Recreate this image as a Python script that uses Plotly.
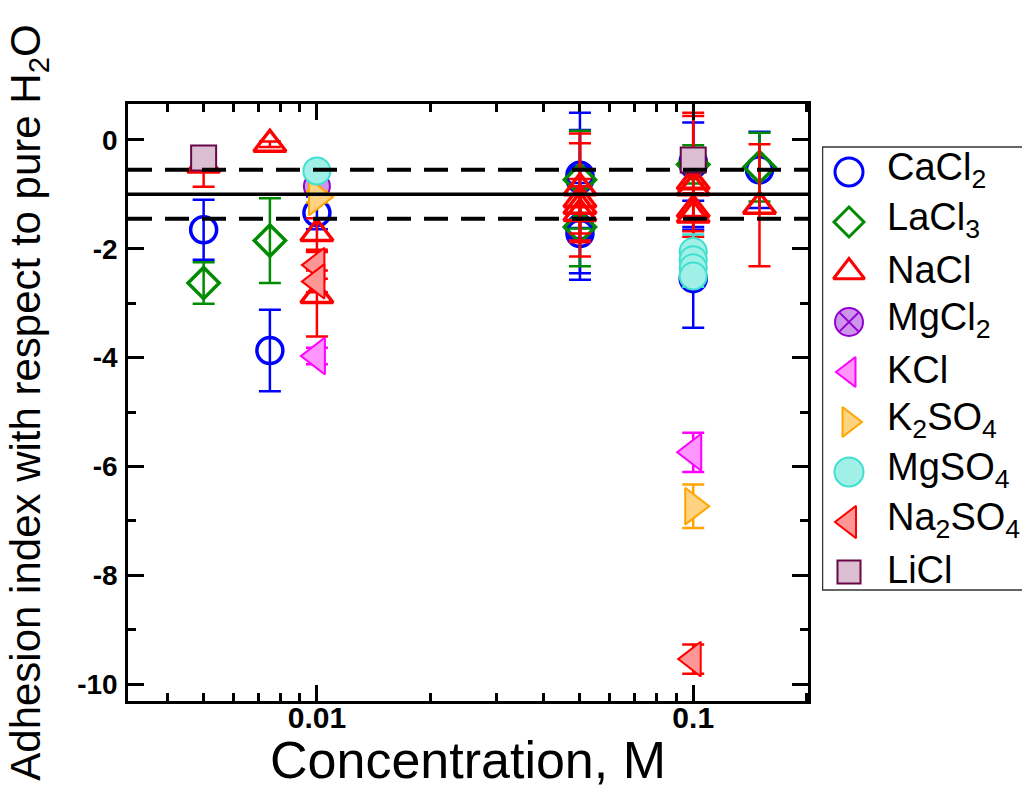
import plotly.graph_objects as go

# ---------------- data ----------------
cacl2_x = [0.005, 0.0075, 0.01, 0.05, 0.05, 0.05, 0.05, 0.1, 0.1, 0.1, 0.15]
cacl2_y = [-1.65, -3.87, -1.34, -0.65, -0.72, -1.62, -1.72, -0.40, -0.45, -2.55, -0.55]
cacl2_e = [0.55, 0.75, 0.30, 1.15, 0.90, 0.83, 0.85, 0.72, 1.15, 0.90, 0.70]

lacl3_x = [0.005, 0.0075, 0.05, 0.05, 0.1, 0.15]
lacl3_y = [-2.63, -1.85, -0.73, -1.60, -0.45, -0.50]
lacl3_e = [0.38, 0.78, 0.90, 0.72, 0.35, 0.63]

nacl_x = [0.005, 0.0075, 0.01, 0.01, 0.05, 0.05, 0.05, 0.05, 0.1, 0.1, 0.1, 0.1, 0.15]
nacl_y = [-0.46, -0.08, -1.72, -2.86, -0.88, -1.10, -1.22, -1.35, -0.77, -0.88, -1.28, -1.38, -1.22]
nacl_ep = [0.20, 0.05, 0.28, 0.80, 1.00, 1.04, 0.50, 0.50, 1.27, 1.32, 0.40, 0.40, 1.14]
nacl_em = [0.40, 0.05, 0.30, 0.75, 1.00, 1.04, 0.50, 0.50, 1.27, 1.32, 0.40, 0.40, 1.10]

mgcl2_x = [0.01]
mgcl2_y = [-0.85]
mgcl2_e = [0.10]

kcl_x = [0.01, 0.1]
kcl_y = [-3.97, -5.74]
kcl_e = [0.15, 0.36]

k2so4_x = [0.01, 0.1]
k2so4_y = [-1.05, -6.73]
k2so4_e = [0.10, 0.40]

mgso4_x = [0.01, 0.1, 0.1, 0.1, 0.1]
mgso4_y = [-0.57, -2.05, -2.20, -2.35, -2.50]
mgso4_e = [0.10, 0.31, 0.20, 0.20, 0.20]

na2so4_x = [0.01, 0.01, 0.1]
na2so4_y = [-2.30, -2.60, -9.54]
na2so4_e = [0.25, 0.20, 0.27]

licl_x = [0.005, 0.1]
licl_y = [-0.33, -0.37]
licl_e = [0.10, 0.10]

ref_lines = [-0.55, -1.0, -1.45]
ref_dash = ["24px,13px", "solid", "24px,13px"]

x_tickvals = [0.01, 0.1]
x_ticktext = ["0.01", "0.1"]
y_tickvals = [0, -2, -4, -6, -8, -10]
y_ticktext = ["0", "-2", "-4", "-6", "-8", "-10"]

# ---------------- style ----------------
FONT = "Liberation Sans, Arial, Helvetica, sans-serif"

series = [
    ("CaCl<sub>2</sub>", cacl2_x, cacl2_y, cacl2_e, cacl2_e, "circle-open", "rgb(0,0,255)", None, 26, 28),
    ("LaCl<sub>3</sub>", lacl3_x, lacl3_y, lacl3_e, lacl3_e, "diamond-open", "rgb(0,139,0)", None, 24, 23),
    ("NaCl", nacl_x, nacl_y, nacl_ep, nacl_em, "triangle-up-open", "rgb(255,0,0)", None, 28, 27),
    ("MgCl<sub>2</sub>", mgcl2_x, mgcl2_y, mgcl2_e, mgcl2_e, "circle-x", "rgb(148,0,211)", "rgba(205,150,235,1)", 26, 28),
    ("KCl", kcl_x, kcl_y, kcl_e, kcl_e, "triangle-left", "rgb(255,0,255)", "rgba(255,150,255,1)", 32, 26),
    ("K<sub>2</sub>SO<sub>4</sub>", k2so4_x, k2so4_y, k2so4_e, k2so4_e, "triangle-right", "rgb(255,165,0)", "rgba(255,210,130,1)", 32, 26),
    ("MgSO<sub>4</sub>", mgso4_x, mgso4_y, mgso4_e, mgso4_e, "circle", "rgb(64,224,208)", "rgba(160,240,232,1)", 27, 29),
    ("Na<sub>2</sub>SO<sub>4</sub>", na2so4_x, na2so4_y, na2so4_e, na2so4_e, "triangle-left", "rgb(255,0,0)", "rgba(255,150,150,1)", 30, 28),
    ("LiCl", licl_x, licl_y, licl_e, licl_e, "square", "rgb(103,7,72)", "rgba(220,190,210,1)", 25, 23),
]

# layout geometry (pixels)
W, H = 1022, 789
ML, MR, MT, MB = 128, 0, 104, 88
PLOT_W = W - ML - MR          # 894
MAIN_W = 680                  # main plot area width
LEG_LEFT = 822                # legend box left edge
main_dom = [0, MAIN_W / PLOT_W]
leg_dom = [(LEG_LEFT - ML) / PLOT_W, 1]
PLOT_H = H - MT - MB

fig = go.Figure()
for name, xs, ys, ep, em, sym, col, fill, size, lsize in series:
    marker = dict(symbol=sym, size=size, color=fill if fill else col,
                  line=dict(color=col, width=3.5 if fill is None else 2))
    fig.add_trace(go.Scatter(
        x=xs, y=ys, mode="markers", name=name, showlegend=False,
        marker=marker, xaxis="x", yaxis="y",
        error_y=dict(type="data", symmetric=False, array=ep, arrayminus=em,
                     color=col, thickness=2.5, width=11),
    ))

# custom legend drawn on its own pixel-scaled axes
leg_top_px, leg_bot_px = 147, 590
first_px, step_px = 172, 50
for i, (name, xs, ys, ep, em, sym, col, fill, size, lsize) in enumerate(series):
    ypx = first_px + step_px * i
    yv = (H - MB) - ypx
    fig.add_trace(go.Scatter(
        x=[27], y=[yv], mode="markers", showlegend=False, hoverinfo="skip",
        xaxis="x2", yaxis="y2",
        marker=dict(symbol=sym, size=lsize, color=fill if fill else col,
                    line=dict(color=col, width=3 if fill is None else 2)),
    ))
    fig.add_annotation(x=63, y=yv + 2, xref="x2", yref="y2", text=name, showarrow=False,
                       xanchor="left", yanchor="middle",
                       font=dict(size=38, family=FONT, color="black"))

fig.add_shape(type="rect", xref="x2", yref="y2", x0=0.5, x1=260,
              y0=(H - MB) - leg_bot_px, y1=(H - MB) - leg_top_px,
              line=dict(color="#333", width=1.5), fillcolor="rgba(0,0,0,0)", layer="below")

for yv, dash in zip(ref_lines, ref_dash):
    fig.add_shape(type="line", xref="x domain", x0=0, x1=1, yref="y", y0=yv, y1=yv,
                  line=dict(color="black", width=4 if dash != "solid" else 3.5, dash=dash),
                  layer="above")

fig.update_layout(
    width=W, height=H,
    margin=dict(l=ML, r=MR, t=MT, b=MB),
    paper_bgcolor="white", plot_bgcolor="white",
    font=dict(family=FONT, color="black"),
    showlegend=False,
    xaxis=dict(domain=main_dom, type="log", range=[-2.502, -0.695], automargin=False,
               tickvals=x_tickvals, ticktext=x_ticktext,
               ticks="inside", ticklen=16, tickwidth=2.5, tickcolor="black",
               minor=dict(ticks="inside", ticklen=8, tickwidth=2.5, tickcolor="black", dtick="D1", showgrid=False),
               showline=True, linecolor="black", linewidth=2.5, mirror="ticks",
               showgrid=False, zeroline=False,
               tickfont=dict(size=30, family=FONT, weight="bold"),
               ticklabelstandoff=-12,
               title=dict(text="Concentration, M", font=dict(size=52, family=FONT), standoff=20)),
    yaxis=dict(range=[-10.31, 0.66], automargin=False,
               tickvals=y_tickvals, ticktext=y_ticktext,
               ticks="inside", ticklen=16, tickwidth=2.5, tickcolor="black",
               minor=dict(ticks="inside", ticklen=8, tickwidth=2.5, tickcolor="black", dtick=1, showgrid=False),
               showline=True, linecolor="black", linewidth=2.5, mirror="ticks",
               showgrid=False, zeroline=False,
               tickfont=dict(size=28, family=FONT, weight="bold"),
               ticklabelstandoff=2,
               title=dict(text="Adhesion index with respect to pure H<sub>2</sub>O",
                          font=dict(size=42, family=FONT), standoff=24)),
    xaxis2=dict(domain=leg_dom, range=[0, W - LEG_LEFT], visible=False, fixedrange=True),
    yaxis2=dict(domain=[0, 1], range=[0, PLOT_H], visible=False, fixedrange=True, anchor="x2"),
)

fig.write_html("out.html")
